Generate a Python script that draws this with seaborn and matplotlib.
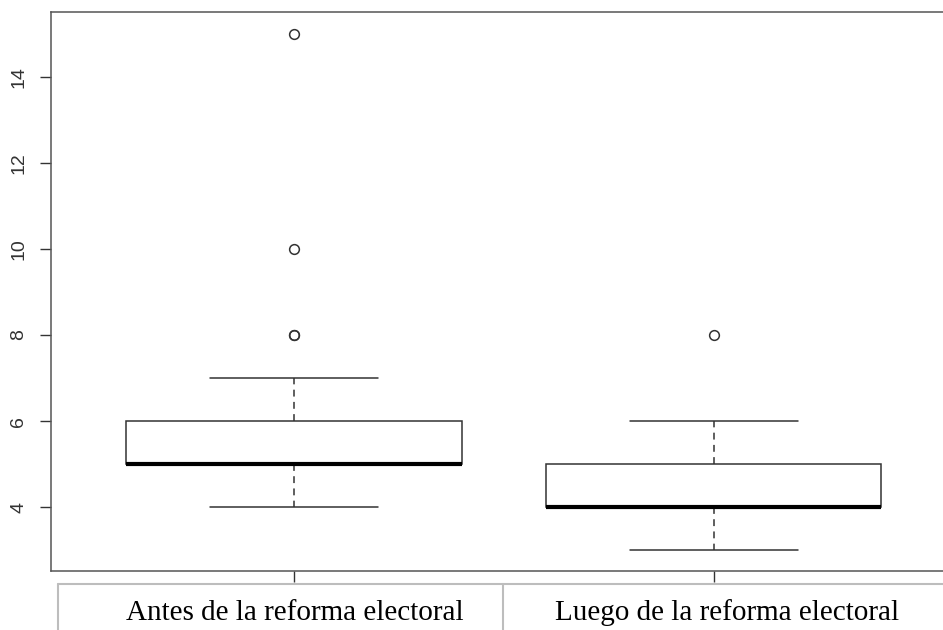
import matplotlib
matplotlib.use("Agg")
import matplotlib.pyplot as plt
from matplotlib.lines import Line2D
import seaborn as sns
import pandas as pd

# valores por grupo (cuartiles, bigotes y atípicos)
antes = [4, 4] + [5] * 10 + [6] * 6 + [7] + [8, 8] + [10, 15]
luego = [3] + [4] * 12 + [5] * 6 + [6, 6] + [8]
grupos = ["Antes de la reforma electoral", "Luego de la reforma electoral"]
y_ticks = [4, 6, 8, 10, 12, 14]

df = pd.DataFrame({
    "grupo": [grupos[0]] * len(antes) + [grupos[1]] * len(luego),
    "valor": antes + luego,
})

sns.set_style("ticks")
plt.rcParams["font.family"] = ["Liberation Sans", "DejaVu Sans"]

W, H = 943, 630
fig = plt.figure(figsize=(W / 100, H / 100), dpi=100)
ax = fig.add_axes([51 / W, (H - 571) / H, 906 / W, 559 / H])

line_col = "#333333"
sns.boxplot(
    data=df, x="grupo", y="valor", ax=ax,
    order=grupos, color="white", linecolor=line_col, linewidth=1.1,
    width=0.8, whis=1.5, fill=True,
    whiskerprops=dict(linestyle=(0, (4.5, 3.5))),
    medianprops=dict(color="black", linewidth=3),
    flierprops=dict(marker="o", markersize=7, markerfacecolor="none",
                    markeredgecolor=line_col, markeredgewidth=1.1),
)

ax.set_xlim(-0.58, 1.58)
ax.set_ylim(2.52, 15.5)
ax.set_yticks(y_ticks)
ax.set_yticklabels([str(t) for t in y_ticks], rotation=90, va="center",
                   fontsize=14, color=line_col)
ax.set_xticks([0, 1])
ax.set_xticklabels(["", ""])
ax.tick_params(axis="both", length=8, width=1, color=line_col)
ax.tick_params(axis="y", pad=9)
ax.set_xlabel("")
ax.set_ylabel("")
for s in ax.spines.values():
    s.set_visible(True)
    s.set_color("#555555")
    s.set_linewidth(1.1)

# tabla de etiquetas bajo el gráfico
grid_col = "#bdbdbd"
top = 1 - 584 / H
fig.add_artist(Line2D([58 / W, 1], [top, top], color=grid_col, lw=1.5))
for xp in (58, 503):
    fig.add_artist(Line2D([xp / W, xp / W], [top, 0], color=grid_col, lw=1.5))

for lab, xc in zip(grupos, (295, 727)):
    fig.text(xc / W, 1 - 620 / H, lab, ha="center", va="baseline",
             fontsize=21, family=["Liberation Serif", "DejaVu Serif"],
             color="black")

fig.savefig("out.png", dpi=100)
